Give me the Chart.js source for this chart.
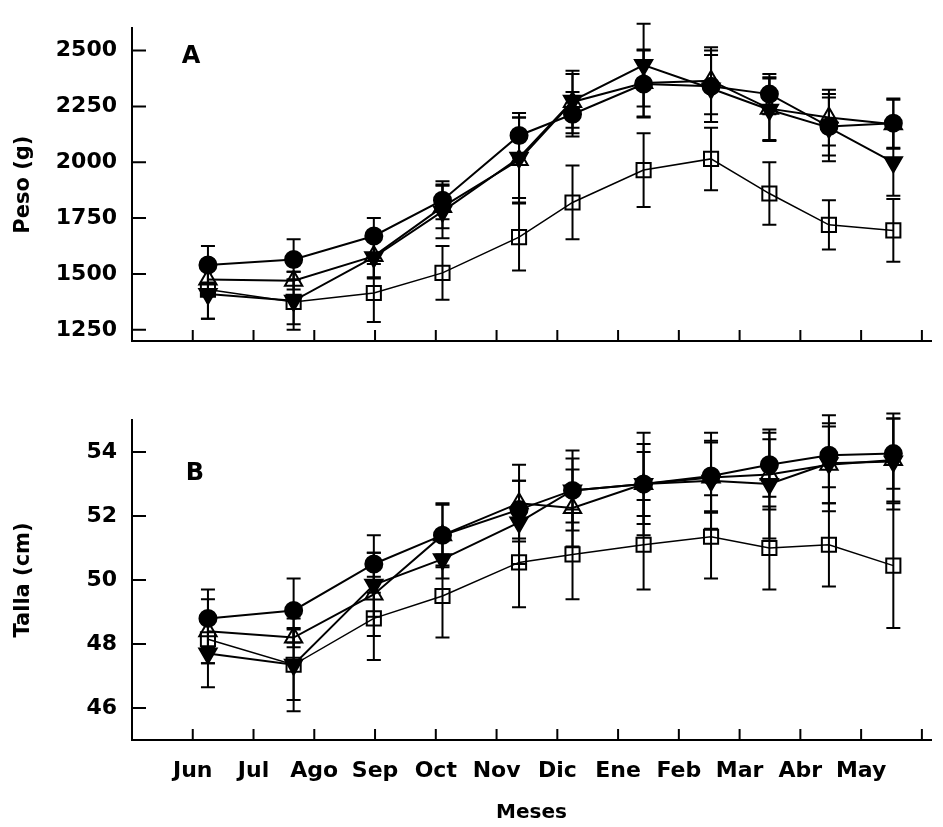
<!DOCTYPE html>
<html>
<head>
<meta charset="utf-8">
<script src="https://cdn.jsdelivr.net/npm/chart.js@4"></script>
<style>
  html, body { margin: 0; padding: 0; background: #fff; }
  #wrap { position: relative; width: 943px; height: 827px; }
  canvas { position: absolute; left: 0; }
  #chartA { top: 0; }
  #chartB { top: 390px; }
</style>
</head>
<body>
<div id="wrap">
  <canvas id="chartA" width="943" height="390"></canvas>
  <canvas id="chartB" width="943" height="437"></canvas>
</div>
<script>
// meses del eje x (Jun = 0)
const meses = ['Jun', 'Jul', 'Ago', 'Sep', 'Oct', 'Nov', 'Dic', 'Ene', 'Feb', 'Mar', 'Abr', 'May'];
const xTicks = [0, 1, 2, 3, 4, 5, 6, 7, 8, 9, 10, 11, 12];
// fecha de cada muestreo, en meses desde el 1 de junio
const muestreos = [0.25, 1.66, 2.98, 4.11, 5.37, 6.25, 7.42, 8.53, 9.49, 10.47, 11.53];

// A: peso (g)
const pesoTicks = [1250, 1500, 1750, 2000, 2250, 2500];
const pesoCirculo = [1540, 1565, 1670, 1830, 2120, 2215, 2350, 2340, 2305, 2160, 2175];
const pesoTriangulo = [1475, 1470, 1580, 1800, 2010, 2270, 2355, 2365, 2240, 2200, 2170];
const pesoTrianguloInv = [1410, 1380, 1575, 1780, 2020, 2275, 2435, 2330, 2235, 2155, 2000];
const pesoCuadrado = [1430, 1375, 1415, 1505, 1665, 1820, 1965, 2015, 1860, 1720, 1695];
const pesoCirculoDE = [85, 90, 80, 85, 100, 100, 150, 160, 90, 130, 110];
const pesoTrianguloDE = [70, 40, 100, 95, 190, 140, 150, 150, 140, 125, 110];
const pesoTrianguloInvDE = [110, 130, 90, 120, 180, 120, 185, 150, 140, 150, 150];
const pesoCuadradoDE = [130, 100, 130, 120, 150, 165, 165, 140, 140, 110, 140];

// B: talla (cm)
const tallaTicks = [46, 48, 50, 52, 54];
const tallaCirculo = [48.8, 49.05, 50.5, 51.4, 52.2, 52.8, 53.0, 53.25, 53.6, 53.9, 53.95];
const tallaTriangulo = [48.4, 48.2, 49.55, 51.4, 52.4, 52.25, 53.0, 53.2, 53.3, 53.6, 53.75];
const tallaTrianguloInv = [47.7, 47.35, 49.85, 50.65, 51.8, 52.8, 53.0, 53.1, 53.0, 53.65, 53.7];
const tallaCuadrado = [48.15, 47.35, 48.8, 49.5, 50.55, 50.8, 51.1, 51.35, 51.0, 51.1, 50.45];
const tallaCirculoDE = [0.9, 1.0, 0.9, 1.0, 0.9, 1.0, 1.0, 1.1, 1.0, 1.0, 1.1];
const tallaTrianguloDE = [1.0, 0.3, 1.3, 0.95, 1.2, 1.2, 1.25, 1.1, 1.1, 1.2, 1.3];
const tallaTrianguloInvDE = [1.05, 1.45, 1.0, 0.6, 1.3, 1.25, 1.6, 1.5, 1.7, 1.5, 1.5];
const tallaCuadradoDE = [0.75, 1.1, 1.3, 1.3, 1.4, 1.4, 1.4, 1.3, 1.3, 1.3, 1.95];

const FUENTE = '"DejaVu Sans", "Liberation Sans", sans-serif';

function serie(valores, de, estilo, relleno, radio, rot, grosor) {
  return {
    data: valores.map((v, i) => ({ x: muestreos[i], y: v })),
    de: de,
    pointStyle: estilo,
    pointRotation: rot,
    pointRadius: radio,
    pointBackgroundColor: relleno ? '#000' : 'rgba(0,0,0,0)',
    pointBorderColor: '#000',
    pointBorderWidth: 2,
    borderColor: '#000',
    borderWidth: grosor,
    tension: 0,
    fill: false
  };
}

// barras de error (media ± DE)
const barrasError = {
  id: 'barrasError',
  beforeDatasetsDraw(chart) {
    const { ctx, scales: { x, y } } = chart;
    ctx.save();
    ctx.strokeStyle = '#000';
    ctx.lineWidth = 2;
    chart.data.datasets.forEach(ds => {
      ds.data.forEach((p, i) => {
        const px = x.getPixelForValue(p.x);
        const arriba = y.getPixelForValue(p.y + ds.de[i]);
        const abajo = y.getPixelForValue(p.y - ds.de[i]);
        ctx.beginPath();
        ctx.moveTo(px, arriba); ctx.lineTo(px, abajo);
        ctx.moveTo(px - 7, arriba); ctx.lineTo(px + 7, arriba);
        ctx.moveTo(px - 7, abajo); ctx.lineTo(px + 7, abajo);
        ctx.stroke();
      });
    });
    ctx.restore();
  }
};

// marcas hacia dentro en los ejes + letra del panel
const marcasEje = {
  id: 'marcasEje',
  afterDraw(chart, args, opts) {
    const { ctx, chartArea: a, scales: { x, y } } = chart;
    ctx.save();
    ctx.strokeStyle = '#000';
    ctx.lineWidth = 2;
    ctx.beginPath();
    xTicks.forEach(v => {
      const px = x.getPixelForValue(v);
      ctx.moveTo(px, a.bottom);
      ctx.lineTo(px, a.bottom - 11);
    });
    opts.yTicks.forEach(v => {
      const py = y.getPixelForValue(v);
      ctx.moveTo(a.left, py);
      ctx.lineTo(a.left + 14, py);
    });
    ctx.stroke();
    ctx.fillStyle = '#000';
    ctx.font = 'bold 24px ' + FUENTE;
    ctx.textAlign = 'center';
    ctx.textBaseline = 'middle';
    ctx.fillText(opts.letra, opts.letraX, opts.letraY);
    ctx.restore();
  }
};

function opciones(cfg) {
  return {
    responsive: false,
    animation: false,
    layout: { padding: { top: cfg.padTop, right: 3, left: 0, bottom: 0 } },
    plugins: {
      legend: { display: false },
      tooltip: { enabled: false },
      marcasEje: { yTicks: cfg.yTicks, letra: cfg.letra, letraX: cfg.letraX, letraY: cfg.letraY }
    },
    scales: {
      x: {
        type: 'linear',
        min: -1,
        max: 12.15,
        grid: { display: false, drawTicks: false },
        border: { display: true, color: '#000', width: 2 },
        afterBuildTicks: s => { s.ticks = xTicks.map(v => ({ value: v })); },
        ticks: {
          display: cfg.mostrarMeses,
          autoSkip: false,
          maxRotation: 0,
          padding: 18,
          color: '#000',
          font: { family: FUENTE, size: 22, weight: 'bold' },
          callback: v => meses[v] || ''
        },
        title: {
          display: cfg.mostrarMeses,
          text: 'Meses',
          color: '#000',
          font: { family: FUENTE, size: 20, weight: 'bold' },
          padding: { top: 0, bottom: 2 }
        },
        afterFit: s => { s.height = cfg.altoX; }
      },
      y: {
        min: cfg.yMin,
        max: cfg.yMax,
        grid: { display: false, drawTicks: false },
        border: { display: true, color: '#000', width: 2 },
        afterBuildTicks: s => { s.ticks = cfg.yTicks.map(v => ({ value: v })); },
        ticks: {
          padding: 15,
          color: '#000',
          font: { family: FUENTE, size: 22, weight: 'bold' },
          callback: v => String(v)
        },
        title: {
          display: true,
          text: cfg.titulo,
          color: '#000',
          font: { family: FUENTE, size: 21, weight: 'bold' },
          padding: { top: 11, bottom: 0 }
        },
        afterFit: s => { s.width = 132; }
      }
    }
  };
}

new Chart(document.getElementById('chartA'), {
  type: 'line',
  data: {
    datasets: [
      serie(pesoCuadrado, pesoCuadradoDE, 'rect', false, 10, 0, 1.5),
      serie(pesoTriangulo, pesoTrianguloDE, 'triangle', false, 10, 0, 2),
      serie(pesoTrianguloInv, pesoTrianguloInvDE, 'triangle', true, 10, 180, 2),
      serie(pesoCirculo, pesoCirculoDE, 'circle', true, 8.5, 0, 2)
    ]
  },
  options: opciones({
    padTop: 20, altoX: 49, yMin: 1200, yMax: 2600, yTicks: pesoTicks,
    titulo: 'Peso (g)', letra: 'A', letraX: 191, letraY: 57, mostrarMeses: false
  }),
  plugins: [barrasError, marcasEje]
});

new Chart(document.getElementById('chartB'), {
  type: 'line',
  data: {
    datasets: [
      serie(tallaCuadrado, tallaCuadradoDE, 'rect', false, 10, 0, 1.5),
      serie(tallaTriangulo, tallaTrianguloDE, 'triangle', false, 10, 0, 2),
      serie(tallaTrianguloInv, tallaTrianguloInvDE, 'triangle', true, 10, 180, 2),
      serie(tallaCirculo, tallaCirculoDE, 'circle', true, 8.5, 0, 2)
    ]
  },
  options: opciones({
    padTop: 30, altoX: 87, yMin: 45, yMax: 55, yTicks: tallaTicks,
    titulo: 'Talla (cm)', letra: 'B', letraX: 195, letraY: 84, mostrarMeses: true
  }),
  plugins: [barrasError, marcasEje]
});
</script>
</body>
</html>
